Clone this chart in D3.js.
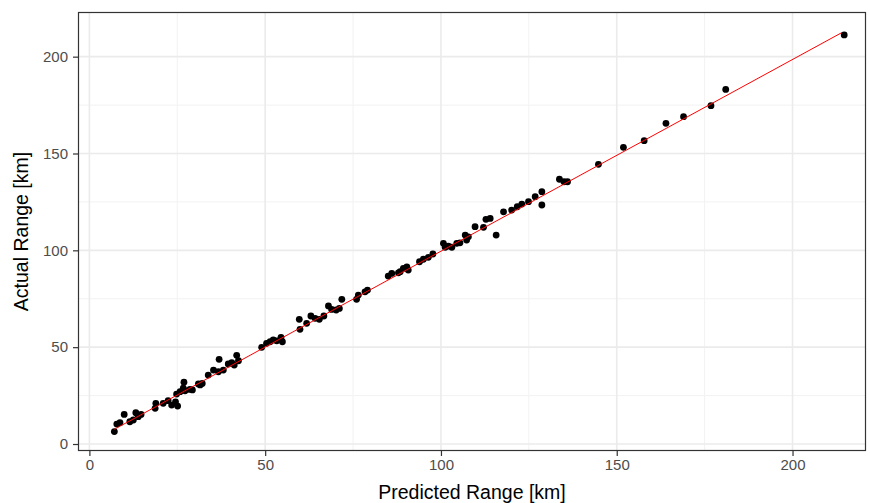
<!DOCTYPE html>
<html>
<head>
<meta charset="utf-8">
<script src="https://cdn.jsdelivr.net/npm/d3@7"></script>
<style>
  html, body { margin: 0; padding: 0; background: #fff; }
  svg { display: block; }
</style>
</head>
<body>
<svg id="chart" width="870" height="503"></svg>
<script>
// ---- data ----
const predicted = [
  7.1, 7.8, 8.7, 9.9, 11.5, 12.5, 13.2, 13.9, 14.7, 18.9, 18.7, 21.0, 22.4, 23.4, 24.5, 25.1, 24.8, 25.8, 26.9, 26.7, 27.2, 28.6, 29.3, 31.5, 32.1,
  31.0, 33.8, 35.3, 36.9, 36.7, 38.1, 39.5, 40.5, 41.9, 41.2, 42.4, 49.0, 50.4, 51.4, 52.3, 53.3, 54.5, 54.9,
  59.7, 59.9, 61.8, 63.0, 64.2, 65.4, 66.7, 68.0, 68.9, 70.2, 71.1, 71.8, 76.0, 76.5, 78.4, 79.1, 85.0, 86.0, 87.9,
  88.4, 89.3, 90.3, 90.7, 93.9, 95.0, 96.4, 97.7, 100.7, 101.2, 102.1, 103.1, 104.5, 105.4, 106.9, 107.3, 107.8, 109.7, 112.1, 112.8, 114.0, 115.7,
  117.8, 120.1, 121.7, 123.0, 124.9, 126.8, 128.7, 128.7, 133.7, 135.0, 136.0, 144.8,
  151.9, 157.8, 164.0, 169.0, 176.8, 181.0, 214.7
];
const actual = [
  6.4, 10.3, 11.0, 15.3, 11.5, 12.4, 16.2, 14.1, 15.3, 21.0, 18.4, 21.0, 22.4, 20.1, 21.8, 19.6, 25.8, 27.0, 31.9, 28.8, 27.5, 28.2, 27.9, 30.5, 31.3,
  31.0, 35.6, 38.2, 43.7, 37.3, 38.2, 41.3, 42.0, 45.8, 40.8, 43.0, 49.9, 52.0, 52.8, 53.7, 53.3, 55.1, 52.8,
  64.4, 59.2, 62.3, 66.1, 64.9, 64.4, 66.1, 71.3, 69.5, 69.2, 70.0, 74.7, 74.7, 76.9, 78.6, 79.5, 86.7, 88.1, 88.4,
  89.0, 90.7, 91.5, 89.8, 94.1, 95.4, 96.4, 98.1, 103.6, 101.6, 102.2, 101.6, 103.6, 103.9, 107.9, 105.3, 107.0, 112.2, 111.9, 116.0, 116.5, 107.9,
  119.9, 120.8, 122.5, 123.9, 125.1, 127.7, 130.3, 123.4, 136.7, 135.4, 135.4, 144.4,
  153.2, 156.6, 165.6, 169.0, 174.7, 183.1, 211.2
];
const fitX = [7.1, 214.0];
const fitY = [7.6, 212.4];
const xTicks = [0, 50, 100, 150, 200];
const yTicks = [0, 50, 100, 150, 200];
const xMinor = [25, 75, 125, 175];
const yMinor = [25, 75, 125, 175];
const xTitle = "Predicted Range [km]";
const yTitle = "Actual Range [km]";

// ---- layout ----
const P = { left: 78, top: 12, right: 866, bottom: 451 };
const svg = d3.select("#chart");
const x = d3.scaleLinear().domain([-3.24, 220.9]).range([P.left, P.right]);
const y = d3.scaleLinear().domain([-3.61, 223.06]).range([P.bottom, P.top]);

const font = "Arial, 'Liberation Sans', sans-serif";

svg.append("rect").attr("x", P.left).attr("y", P.top)
  .attr("width", P.right - P.left).attr("height", P.bottom - P.top).attr("fill", "#fff");

const grid = svg.append("g");
grid.selectAll(".vminor").data(xMinor).join("line")
  .attr("x1", d => x(d)).attr("x2", d => x(d)).attr("y1", P.top).attr("y2", P.bottom)
  .attr("stroke", "#F2F2F2").attr("stroke-width", 1);
grid.selectAll(".hminor").data(yMinor).join("line")
  .attr("y1", d => y(d)).attr("y2", d => y(d)).attr("x1", P.left).attr("x2", P.right)
  .attr("stroke", "#F2F2F2").attr("stroke-width", 1);
grid.selectAll(".vmajor").data(xTicks).join("line")
  .attr("x1", d => x(d)).attr("x2", d => x(d)).attr("y1", P.top).attr("y2", P.bottom)
  .attr("stroke", "#EBEBEB").attr("stroke-width", 1.6);
grid.selectAll(".hmajor").data(yTicks).join("line")
  .attr("y1", d => y(d)).attr("y2", d => y(d)).attr("x1", P.left).attr("x2", P.right)
  .attr("stroke", "#EBEBEB").attr("stroke-width", 1.6);

// points
svg.append("g").selectAll("circle").data(predicted.map((p, i) => [p, actual[i]])).join("circle")
  .attr("cx", d => x(d[0])).attr("cy", d => y(d[1])).attr("r", 3.4).attr("fill", "#000");

// fit line
svg.append("path").datum(fitX.map((v, i) => [v, fitY[i]]))
  .attr("d", d3.line().x(d => x(d[0])).y(d => y(d[1])))
  .attr("fill", "none").attr("stroke", "#FF0000").attr("stroke-width", 1);

// panel border
svg.append("rect").attr("x", P.left + 0.5).attr("y", P.top + 0.5)
  .attr("width", P.right - P.left - 1).attr("height", P.bottom - P.top - 1)
  .attr("fill", "none").attr("stroke", "#333333").attr("stroke-width", 1.2);

// axes
const xAxis = svg.append("g").attr("transform", `translate(0,${P.bottom})`)
  .call(d3.axisBottom(x).tickValues(xTicks).tickSize(5).tickPadding(3).tickFormat(d3.format("d")));
const yAxis = svg.append("g").attr("transform", `translate(${P.left},0)`)
  .call(d3.axisLeft(y).tickValues(yTicks).tickSize(5).tickPadding(5).tickFormat(d3.format("d")));
[xAxis, yAxis].forEach(a => {
  a.select(".domain").remove();
  a.selectAll(".tick line").attr("stroke", "#333333").attr("stroke-width", 1.2);
  a.selectAll(".tick text").attr("fill", "#4D4D4D").style("font-family", font).style("font-size", "15px");
});

// titles
svg.append("text").attr("x", (P.left + P.right) / 2).attr("y", 499)
  .attr("text-anchor", "middle").style("font-family", font).style("font-size", "19.5px")
  .attr("fill", "#000").text(xTitle);
svg.append("text").attr("transform", `translate(28,${(P.top + P.bottom) / 2}) rotate(-90)`)
  .attr("text-anchor", "middle").style("font-family", font).style("font-size", "19.5px")
  .attr("fill", "#000").text(yTitle);
</script>
</body>
</html>
